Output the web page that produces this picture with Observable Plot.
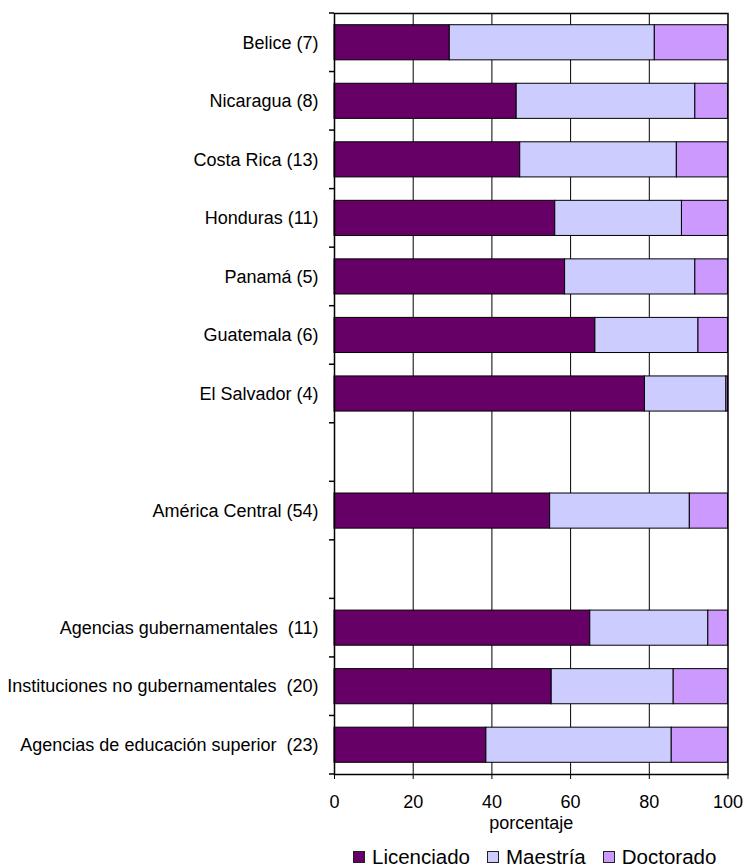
<!DOCTYPE html>
<html>
<head>
<meta charset="utf-8">
<script src="https://cdn.jsdelivr.net/npm/d3@7"></script>
<script src="https://cdn.jsdelivr.net/npm/@observablehq/plot@0.6"></script>
<style>
  body { margin: 0; background: #fff; font-family: "Liberation Sans", Arial, sans-serif; color: #000; }
  #chart svg { display: block; }
  #legend { display: flex; align-items: center; height: 21px; line-height: 21px; font-size: 20.5px; padding-left: 353px; }
  #legend .item { display: flex; align-items: center; margin-right: 17px; }
  #legend .sw { width: 10px; height: 10px; border: 1px solid #222; margin-right: 7px; }
</style>
</head>
<body>
<div id="chart"></div>
<div id="legend"></div>
<script>
// Categories (blank entries are spacer rows between groups)
const categories = [
  "Belice (7)",
  "Nicaragua (8)",
  "Costa Rica (13)",
  "Honduras (11)",
  "Panamá (5)",
  "Guatemala (6)",
  "El Salvador (4)",
  " ",
  "América Central (54)",
  "  ",
  "Agencias gubernamentales\u00a0 (11)",
  "Instituciones no gubernamentales\u00a0 (20)",
  "Agencias de educación superior\u00a0 (23)"
];

// Share (%) by highest degree
const licenciado = [29.3, 46.3, 47.2, 56.1, 58.6, 66.3, 78.9, null, 54.8, null, 65.0, 55.2, 38.6];
const maestria   = [52.1, 45.4, 39.8, 32.2, 33.1, 26.2, 20.7, null, 35.5, null, 30.0, 31.0, 47.1];
const doctorado  = [18.6,  8.3, 13.0, 11.7,  8.3,  7.5,  0.4, null,  9.7, null,  5.0, 13.8, 14.3];

const levels = ["Licenciado", "Maestría", "Doctorado"];
const colors = ["#660066", "#ccccff", "#cc99ff"];
const xTicks = [0, 20, 40, 60, 80, 100];
const gridTicks = [20, 40, 60, 80];

const series = [licenciado, maestria, doctorado];
const rows = [];
categories.forEach((cat, i) => {
  if (licenciado[i] == null) return;
  levels.forEach((nivel, j) => rows.push({cat, nivel, pct: series[j][i]}));
});

// Small tick marks on the category axis, placed between categories
function categoryTicks(index, scales, values, dimensions) {
  const y = scales.y;
  const x0 = dimensions.marginLeft;
  const pos = categories.map((c) => y(c));
  const step = pos[1] - pos[0];
  const bw = typeof y.bandwidth === "function" ? y.bandwidth() : step * 0.6;
  const off = (step - bw) / 2;
  const ys = pos.map((p) => p - off).concat([pos[pos.length - 1] + bw + off]);
  const g = d3.create("svg:g").attr("stroke", "#000").attr("stroke-width", 1.5);
  g.selectAll("line").data(ys).join("line")
    .attr("x1", x0 - 5).attr("x2", x0)
    .attr("y1", (d) => d).attr("y2", (d) => d);
  return g.node();
}

const chart = Plot.plot({
  width: 744,
  height: 846,
  marginLeft: 334,
  marginRight: 16.5,
  marginTop: 13,
  marginBottom: 72,
  style: {fontFamily: "'Liberation Sans', Arial, sans-serif", fontSize: "18px", color: "#000", background: "#fff"},
  x: {domain: [0, 100]},
  y: {domain: categories, paddingInner: 0.4, paddingOuter: 0.2, round: false},
  color: {domain: levels, range: colors},
  marks: [
    Plot.ruleX(gridTicks, {stroke: "#000", strokeWidth: 1}),
    Plot.barX(rows, {y: "cat", x: "pct", fill: "nivel", order: levels, stroke: "#000", strokeWidth: 1}),
    Plot.frame({stroke: "#000", strokeWidth: 1.5}),
    Plot.axisX({ticks: xTicks, tickSize: 5, tickPadding: 16, label: "porcentaje", labelAnchor: "center", labelOffset: 54, labelArrow: "none"}),
    Plot.axisY({tickSize: 0, tickPadding: 16, label: null}),
    categoryTicks
  ]
});
document.getElementById("chart").appendChild(chart);

// Legend below the chart
const legend = d3.select("#legend");
levels.forEach((lv, i) => {
  const item = legend.append("div").attr("class", "item");
  item.append("div").attr("class", "sw").style("background", colors[i]);
  item.append("span").text(lv);
});
</script>
</body>
</html>
